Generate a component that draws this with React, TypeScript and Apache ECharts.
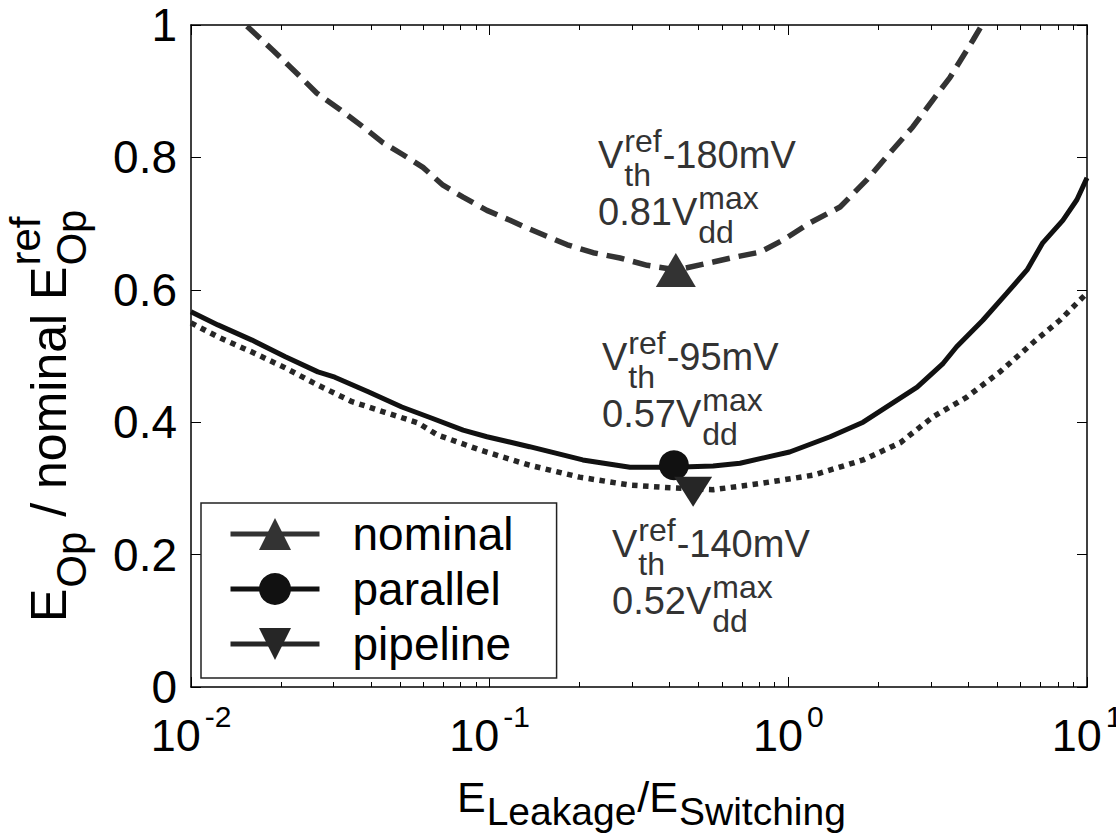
import React, { useEffect, useRef } from 'react';
import * as echarts from 'echarts';

const FONT = '"Liberation Sans", Arial, Helvetica, sans-serif';

// ---- data (x = E_Leakage/E_Switching, y = E_Op / nominal E_Op^ref) ----
const seriesNames = ['nominal', 'parallel', 'pipeline'];

const nominalX = [0.0154, 0.0188, 0.0226, 0.0264, 0.0316, 0.0377, 0.044, 0.0513, 0.0598, 0.0698, 0.0815, 0.0979, 0.117, 0.134, 0.182, 0.222, 0.273, 0.337, 0.424, 0.56, 0.673, 0.804, 0.959, 1.18, 1.49, 1.83, 2.19, 2.61, 3.05, 3.48, 4.15, 4.45];
const nominalY = [0.998, 0.962, 0.927, 0.897, 0.872, 0.846, 0.822, 0.804, 0.785, 0.758, 0.74, 0.72, 0.705, 0.693, 0.668, 0.656, 0.648, 0.637, 0.63, 0.642, 0.65, 0.657, 0.675, 0.701, 0.725, 0.766, 0.807, 0.846, 0.887, 0.921, 0.977, 1.0];

const parallelX = [0.01, 0.0123, 0.016, 0.0207, 0.0266, 0.0303, 0.0392, 0.0508, 0.0641, 0.0815, 0.0979, 0.136, 0.205, 0.295, 0.414, 0.56, 0.689, 1.01, 1.38, 1.78, 2.7, 3.3, 3.66, 4.48, 5.39, 6.3, 7.11, 8.3, 9.25, 10];
const parallelY = [0.567, 0.547, 0.524, 0.499, 0.476, 0.468, 0.446, 0.423, 0.406, 0.388, 0.378, 0.363, 0.343, 0.332, 0.332, 0.334, 0.338, 0.355, 0.378, 0.4, 0.453, 0.489, 0.514, 0.554, 0.595, 0.63, 0.671, 0.705, 0.736, 0.769];

const pipelineX = [0.01, 0.0123, 0.016, 0.0207, 0.0266, 0.0346, 0.0446, 0.0575, 0.0667, 0.0929, 0.136, 0.2, 0.295, 0.402, 0.56, 0.822, 1.21, 1.78, 2.37, 3.05, 3.96, 5.11, 6.59, 8.11, 10];
const pipelineY = [0.55, 0.529, 0.506, 0.482, 0.456, 0.431, 0.415, 0.399, 0.381, 0.358, 0.335, 0.317, 0.305, 0.301, 0.298, 0.308, 0.32, 0.343, 0.369, 0.408, 0.438, 0.476, 0.52, 0.554, 0.595];

// optimum points (markers): nominal, parallel, pipeline
const optimumX = [0.42, 0.414, 0.48];
const optimumY = [0.63, 0.335, 0.295];

const xMajorTicks = [0.01, 0.1, 1, 10];
const xMinorTicks = [0.02, 0.03, 0.04, 0.05, 0.06, 0.07, 0.08, 0.09, 0.2, 0.3, 0.4, 0.5, 0.6, 0.7, 0.8, 0.9, 2, 3, 4, 5, 6, 7, 8, 9];

// annotation texts
const annoVth = ['-180mV', '-95mV', '-140mV'];
const annoVdd = ['0.81', '0.57', '0.52'];

const COLORS = ['#333333', '#111111', '#262626'];

type Seg = { t?: string; sup?: string; sub?: string };

let measureCtx: CanvasRenderingContext2D | null = null;
function tw(text: string, size: number): number {
  if (!measureCtx) measureCtx = document.createElement('canvas').getContext('2d');
  measureCtx!.font = `${size}px ${FONT}`;
  return measureCtx!.measureText(text).width;
}

function txt(text: string, x: number, baseline: number, size: number, color: string) {
  return {
    type: 'text',
    x,
    y: baseline - 0.35 * size,
    silent: true,
    style: {
      text,
      fill: color,
      fontSize: size,
      fontFamily: FONT,
      align: 'left',
      verticalAlign: 'middle',
    },
  };
}

function buildText(segs: Seg[], x0: number, base: number, main: number, small: number, color: string, supDy: number, subDy: number) {
  const els: any[] = [];
  let x = x0;
  for (const s of segs) {
    if (s.t) {
      els.push(txt(s.t, x, base, main, color));
      x += tw(s.t, main);
    } else {
      let w = 0;
      const px = x + 1;
      if (s.sup) {
        els.push(txt(s.sup, px, base + supDy, small, color));
        w = Math.max(w, tw(s.sup, small));
      }
      if (s.sub) {
        els.push(txt(s.sub, px, base + subDy, small, color));
        w = Math.max(w, tw(s.sub, small));
      }
      x = px + w + 1;
    }
  }
  return els;
}

function annotation(i: number, x0: number, base: number) {
  const color = '#333333';
  const l1 = buildText([{ t: 'V' }, { sup: 'ref', sub: 'th' }, { t: annoVth[i] }], x0, base, 38, 32, color, -16, 18);
  const l2 = buildText([{ t: annoVdd[i] + 'V' }, { sup: 'max', sub: 'dd' }], x0, base + 57, 38, 32, color, -16, 18);
  return [...l1, ...l2];
}

export default function App() {
  const ref = useRef<HTMLDivElement>(null);

  useEffect(() => {
    if (!ref.current) return;
    const chart = echarts.init(ref.current, undefined, { renderer: 'svg' });

    const toPairs = (xs: number[], ys: number[]) => xs.map((x, i) => [x, ys[i]]);

    const axisLineStyle = { color: '#000', width: 1.5 };
    const logBase = { type: 'log', logBase: 10, min: 0.01, max: 10, gridIndex: 0 } as any;

    const yTitle = buildText(
      [{ t: 'E' }, { sub: 'Op' }, { t: ' / nominal ' }, { t: 'E' }, { sup: 'ref', sub: 'Op' }],
      0, 0, 50, 42, '#000', -26, 20
    );
    const xTitle = buildText(
      [{ t: 'E' }, { sub: 'Leakage' }, { t: '/E' }, { sub: 'Switching' }],
      457, 812, 43, 39, '#000', -16, 13
    );

    const option: any = {
      animation: false,
      backgroundColor: '#ffffff',
      textStyle: { fontFamily: FONT },
      grid: { left: 191, right: 29, top: 25, bottom: 146, containLabel: false, outerBoundsMode: 'none', show: false },
      xAxis: [
        {
          ...logBase,
          position: 'bottom',
          axisLine: { show: true, lineStyle: axisLineStyle },
          axisTick: { show: true, inside: true, length: 10, lineStyle: { color: '#000', width: 1 } },
          splitLine: { show: false },
          minorTick: { show: false },
          axisLabel: {
            show: true,
            margin: 14,
            hideOverlap: false,
            formatter: (v: number) => `{b|10}{s|${Math.round(Math.log10(v))}}`,
            rich: {
              b: { fontSize: 45, lineHeight: 46, padding: [22, 0, 0, 0], color: '#000', fontFamily: FONT },
              s: { fontSize: 30, lineHeight: 30, verticalAlign: 'top', padding: [0, 0, 0, 4], color: '#000', fontFamily: FONT },
            },
          },
        },
        {
          ...logBase,
          position: 'bottom',
          axisLine: { show: false },
          axisTick: { show: true, inside: true, length: 5, customValues: xMinorTicks, lineStyle: { color: '#000', width: 1 } },
          axisLabel: { show: false },
          splitLine: { show: false },
        },
        {
          ...logBase,
          position: 'top',
          axisLine: { show: true, lineStyle: axisLineStyle },
          axisTick: { show: true, inside: true, length: 10, customValues: xMajorTicks, lineStyle: { color: '#000', width: 1 } },
          axisLabel: { show: false },
          splitLine: { show: false },
        },
        {
          ...logBase,
          position: 'top',
          axisLine: { show: false },
          axisTick: { show: true, inside: true, length: 5, customValues: xMinorTicks, lineStyle: { color: '#000', width: 1 } },
          axisLabel: { show: false },
          splitLine: { show: false },
        },
      ],
      yAxis: [
        {
          type: 'value',
          min: 0,
          max: 1,
          interval: 0.2,
          position: 'left',
          axisLine: { show: true, lineStyle: axisLineStyle },
          axisTick: { show: true, inside: true, length: 10, lineStyle: { color: '#000', width: 1 } },
          splitLine: { show: false },
          axisLabel: { fontSize: 46, color: '#000', margin: 14, fontFamily: FONT },
        },
        {
          type: 'value',
          min: 0,
          max: 1,
          interval: 0.2,
          position: 'right',
          axisLine: { show: true, lineStyle: axisLineStyle },
          axisTick: { show: true, inside: true, length: 10, lineStyle: { color: '#000', width: 1 } },
          splitLine: { show: false },
          axisLabel: { show: false },
        },
      ],
      legend: {
        data: seriesNames,
        orient: 'vertical',
        left: 201,
        top: 503,
        itemWidth: 89,
        itemHeight: 40,
        itemGap: 9,
        padding: [8, 43, 11, 27],
        borderColor: '#222',
        borderWidth: 1.5,
        borderRadius: 0,
        backgroundColor: '#ffffff',
        selectedMode: false,
        lineStyle: { type: 'solid', width: 5 },
        textStyle: { fontSize: 46, color: '#000', fontFamily: FONT, padding: [0, 0, 0, 28] },
      },
      series: [
        {
          name: seriesNames[0],
          type: 'line',
          data: toPairs(nominalX, nominalY),
          showSymbol: false,
          symbol: 'triangle',
          lineStyle: { color: COLORS[0], width: 5.5, type: [18, 9] },
          itemStyle: { color: COLORS[0] },
          z: 3,
        },
        {
          name: seriesNames[1],
          type: 'line',
          data: toPairs(parallelX, parallelY),
          showSymbol: false,
          symbol: 'circle',
          lineStyle: { color: COLORS[1], width: 5, type: 'solid' },
          itemStyle: { color: COLORS[1] },
          z: 3,
        },
        {
          name: seriesNames[2],
          type: 'line',
          data: toPairs(pipelineX, pipelineY),
          showSymbol: false,
          symbol: 'triangle',
          symbolRotate: 180,
          lineStyle: { color: COLORS[2], width: 5.5, type: [5.5, 5.5] },
          itemStyle: { color: COLORS[2] },
          z: 3,
        },
        {
          name: 'nominal optimum',
          type: 'scatter',
          data: [[optimumX[0], optimumY[0]]],
          symbol: 'triangle',
          symbolSize: [40, 34],
          itemStyle: { color: COLORS[0], opacity: 1 },
          z: 5,
        },
        {
          name: 'parallel optimum',
          type: 'scatter',
          data: [[optimumX[1], optimumY[1]]],
          symbol: 'circle',
          symbolSize: 30,
          itemStyle: { color: COLORS[1], opacity: 1 },
          z: 5,
        },
        {
          name: 'pipeline optimum',
          type: 'scatter',
          data: [[optimumX[2], optimumY[2]]],
          symbol: 'triangle',
          symbolRotate: 180,
          symbolSize: [38, 30],
          itemStyle: { color: COLORS[2], opacity: 1 },
          z: 6,
        },
      ],
      graphic: [
        { type: 'group', x: 66, y: 622, rotation: Math.PI / 2, children: yTitle },
        { type: 'group', children: xTitle },
        { type: 'group', children: annotation(0, 598, 168) },
        { type: 'group', children: annotation(1, 602, 370) },
        { type: 'group', children: annotation(2, 612, 557) },
      ],
    };

    chart.setOption(option);
    return () => chart.dispose();
  }, []);

  return (
    <div
      ref={ref}
      style={{ position: 'absolute', left: 0, top: 0, width: 1116, height: 833, background: '#fff' }}
    />
  );
}
